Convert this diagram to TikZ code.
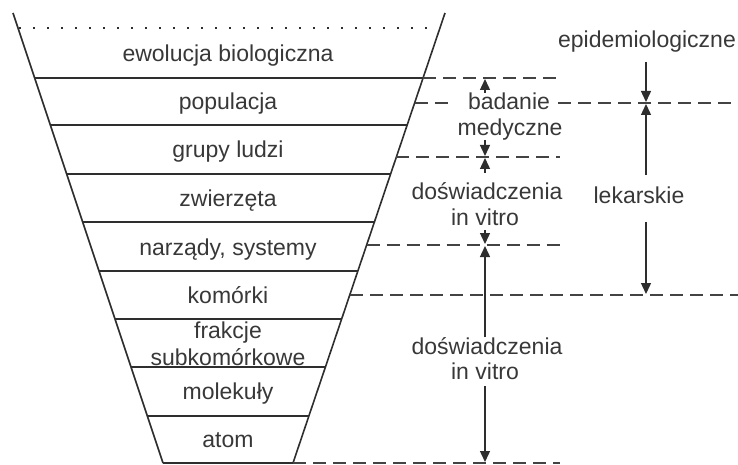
\documentclass[tikz,border=0pt]{standalone}
\usepackage{fontspec}
\setmainfont{Liberation Sans}
\usetikzlibrary{arrows.meta}
\definecolor{ink}{HTML}{2E2E2E}
\definecolor{txt}{HTML}{383838}
\begin{document}
\begin{tikzpicture}[x=1pt,y=-1pt,
  lbl/.style={font=\fontsize{23}{27}\selectfont, text=txt, inner sep=0pt, anchor=base},
  solidln/.style={draw=ink, line width=1.6pt},
  dashln/.style={draw=ink!90, line width=1.6pt, dash pattern=on 13pt off 7pt},
  dotln/.style={draw=ink, line width=1.8pt, dash pattern=on 1.8pt off 12.2pt},
  arr/.style={draw=ink, line width=1.4pt, -{Triangle[width=10pt,length=11pt]}}]
\useasboundingbox (0,0) rectangle (738,465);

% funnel sides
\coordinate (TL) at (13,13);
\coordinate (BL) at (163,463);
\coordinate (TR) at (445,13);
\coordinate (BR) at (293,463);
\draw[solidln] (TL) -- (BL);
\draw[solidln] (TR) -- (BR);
% dotted top line
\draw[dotln] (19,28) -- (437,28);
% layer lines
\foreach \y in {78,125,174,222,271,319,367,416,463}
  \draw[solidln] ({13+(\y-13)/3},\y) -- ({445-(\y-13)*0.33778},\y);

% layer labels
\node[lbl] (l1) at (228,62) {ewolucja biologiczna};
\node[lbl] (l2) at (228,110) {populacja};
\node[lbl] (l3) at (228,158) {grupy ludzi};
\node[lbl] (l4) at (228,206) {zwierzęta};
\node[lbl] (l5) at (228,255) {narządy, systemy};
\node[lbl] (l6) at (228,303) {komórki};
\node[lbl] (l7a) at (228,338) {frakcje};
\node[lbl] (l7b) at (228,365) {subkomórkowe};
\node[lbl] (l8) at (228,399) {molekuły};
\node[lbl] (l9) at (228,447) {atom};

% right labels
\node[lbl] (bad1) at (509,110) {badanie};
\node[lbl] (bad2) at (510,136) {medyczne};
\node[lbl] (dw1) at (487,200) {doświadczenia};
\node[lbl] (dw1b) at (485,225) {in vitro};
\node[lbl] (dw2) at (487,354) {doświadczenia};
\node[lbl] (dw2b) at (485,379) {in vitro};
\node[lbl] (epi) at (647,48) {epidemiologiczne};
\node[lbl] (lek) at (639,204) {lekarskie};

% dashed level lines
\draw[dashln] ({445-(78-13)*0.33778},78) -- (560,78);
\draw[dashln] ({445-(103-13)*0.33778},103) -- ([xshift=-14pt]bad1.west |- 0,103);
\draw[dashln] ([xshift=8pt]bad1.east |- 0,103) -- (738,103);
\draw[dashln] ({445-(157-13)*0.33778},157) -- (560,157);
\draw[dashln] ({445-(245-13)*0.33778},245) -- (563,245);
\draw[dashln] ({445-(295-13)*0.33778},295) -- (738,295);
\draw[dashln] (293,463) -- (560,463);

% arrows, column A
\coordinate (a0) at (485,93);
\coordinate (a1) at (485,79);
\coordinate (a2s) at (485,140);
\coordinate (a2) at (485,156);
\coordinate (a3s) at (485,173);
\coordinate (a3) at (485,158);
\coordinate (a4s) at (485,230);
\coordinate (a4) at (485,244);
\coordinate (a5s) at (485,337);
\coordinate (a5) at (485,246);
\coordinate (a6s) at (485,386);
\coordinate (a6) at (485,462);
\draw[arr] (a0) -- (a1);
\draw[arr] (a2s) -- (a2);
\draw[arr] (a3s) -- (a3);
\draw[arr] (a4s) -- (a4);
\draw[arr] (a5s) -- (a5);
\draw[arr] (a6s) -- (a6);

% arrows, column B
\coordinate (b1s) at (646,62);
\coordinate (b1) at (646,102);
\coordinate (b2s) at (646,175);
\coordinate (b2) at (646,104);
\coordinate (b3s) at (646,222);
\coordinate (b3) at (646,294);
\draw[arr] (b1s) -- (b1);
\draw[arr] (b2s) -- (b2);
\draw[arr] (b3s) -- (b3);
\end{tikzpicture}
\end{document}
